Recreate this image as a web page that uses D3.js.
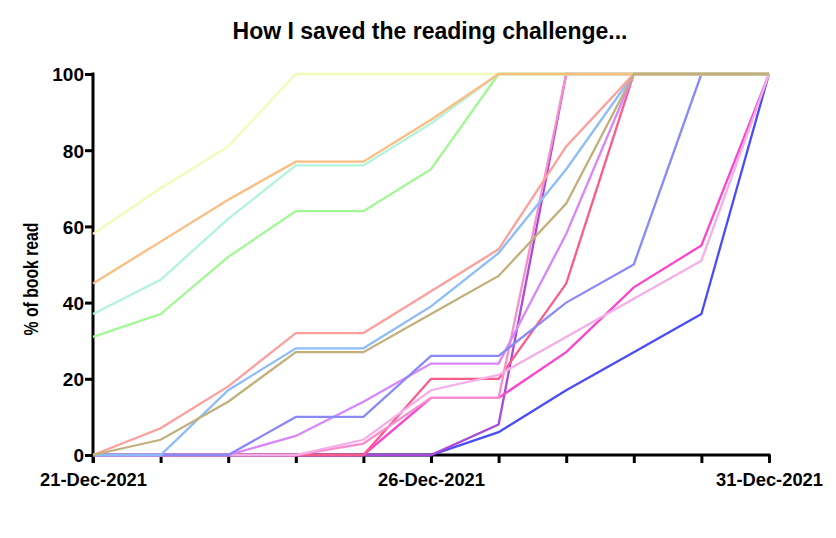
<!DOCTYPE html>
<html>
<head>
<meta charset="utf-8">
<script src="https://cdn.jsdelivr.net/npm/d3@7"></script>
<style>
  html, body { margin: 0; padding: 0; background: #fff; }
  svg { display: block; font-family: "Liberation Sans", Arial, sans-serif; }
</style>
</head>
<body>
<svg id="chart" width="836" height="538"></svg>
<script>
// ---- data ----
const dates = ["2021-12-21","2021-12-22","2021-12-23","2021-12-24","2021-12-25","2021-12-26","2021-12-27","2021-12-28","2021-12-29","2021-12-30","2021-12-31"];
const tickLabelDates = ["2021-12-21","2021-12-26","2021-12-31"];
const yTicks = [0, 20, 40, 60, 80, 100];

const bookBlue       = [0, 0, 0, 0, 0, 0, 6, 17, 27, 37, 100];
const bookPurple     = [0, 0, 0, 0, 0, 0, 8, 100, 100, 100, 100];
const bookMagenta    = [0, 0, 0, 0, 0, 15, 15, 27, 44, 55, 100];
const bookRedPink    = [0, 0, 0, 0, 0, 20, 20, 45, 100, 100, 100];
const bookPink       = [0, 0, 0, 0, 3, 15, 15, 100, 100, 100, 100];
const bookLightPink  = [0, 0, 0, 0, 4, 17, 21, 31, 41, 51, 100];
const bookViolet     = [0, 0, 0, 5, 14, 24, 24, 58, 100, 100, 100];
const bookPeriwinkle = [0, 0, 0, 10, 10, 26, 26, 40, 50, 100, 100];
const bookLightBlue  = [0, 0, 17, 28, 28, 39, 53, 75, 100, 100, 100];
const bookSalmon     = [0, 7, 18, 32, 32, 43, 54, 81, 100, 100, 100];
const bookYellow     = [58, 70, 81, 100, 100, 100, 100, 100, 100, 100, 100];
const bookAqua       = [37, 46, 62, 76, 76, 87, 100, 100, 100, 100, 100];
const bookGreen      = [31, 37, 52, 64, 64, 75, 100, 100, 100, 100, 100];
const bookOrange     = [45, 56, 67, 77, 77, 88, 100, 100, 100, 100, 100];
const bookTan        = [0, 4, 14, 27, 27, 37, 47, 66, 100, 100, 100];

const seriesList = [
  { values: bookBlue,       color: "#4a4cf6" },
  { values: bookPurple,     color: "#a94ad8" },
  { values: bookMagenta,    color: "#fb45cf" },
  { values: bookRedPink,    color: "#fd5a8c" },
  { values: bookPink,       color: "#f78fcf" },
  { values: bookLightPink,  color: "#f6aee8" },
  { values: bookViolet,     color: "#d986fa" },
  { values: bookPeriwinkle, color: "#8a89fb" },
  { values: bookLightBlue,  color: "#8dbdf9" },
  { values: bookSalmon,     color: "#fe9f9c" },
  { values: bookYellow,     color: "#f4fbb8" },
  { values: bookAqua,       color: "#b2f3dc" },
  { values: bookGreen,      color: "#a0f993" },
  { values: bookOrange,     color: "#fdbd80" },
  { values: bookTan,        color: "#c2b07c" }
];

// ---- layout ----
const W = 836, H = 538;
const margin = { top: 74, right: 67, bottom: 83, left: 93 };
const parse = d3.timeParse("%Y-%m-%d");
const fmt = d3.timeFormat("%d-%b-%Y");
const dateObjs = dates.map(parse);

const svg = d3.select("#chart");
const x = d3.scaleTime()
  .domain(d3.extent(dateObjs))
  .range([margin.left, W - margin.right]);
const y = d3.scaleLinear()
  .domain([0, 100])
  .range([H - margin.bottom, margin.top]);

// axes (drawn first so lines at 0 sit on top)
const labelSet = new Set(tickLabelDates);
const xAxis = d3.axisBottom(x)
  .tickValues(dateObjs)
  .tickSize(8)
  .tickSizeOuter(0)
  .tickFormat((d) => labelSet.has(d3.timeFormat("%Y-%m-%d")(d)) ? fmt(d) : "");

const gx = svg.append("g")
  .attr("transform", `translate(0,${H - margin.bottom})`)
  .call(xAxis);
gx.select(".domain").attr("stroke", "#000").attr("stroke-width", 3)
  .attr("d", `M${margin.left - 1.5},0H${W - margin.right + 1.5}`);
gx.selectAll(".tick line").attr("stroke", "#000").attr("stroke-width", 3);
gx.selectAll(".tick text")
  .attr("fill", "#000")
  .attr("font-size", 19)
  .attr("font-weight", "bold")
  .attr("y", 31)
  .attr("dy", 0)
  .each(function() {
    if (this.textContent) {
      d3.select(this).attr("textLength", 107).attr("lengthAdjust", "spacingAndGlyphs");
    }
  });

const yAxis = d3.axisLeft(y)
  .tickValues(yTicks)
  .tickSize(8)
  .tickSizeOuter(0);
const gy = svg.append("g")
  .attr("transform", `translate(${margin.left},0)`)
  .call(yAxis);
gy.select(".domain").attr("stroke", "#000").attr("stroke-width", 3)
  .attr("d", `M0,${margin.top - 1.5}V${H - margin.bottom + 8}`);
gy.selectAll(".tick line").attr("stroke", "#000").attr("stroke-width", 3);
gy.selectAll(".tick text")
  .attr("fill", "#000")
  .attr("font-size", 19)
  .attr("font-weight", "bold")
  .attr("x", -9)
  .attr("dy", "0.36em");

// lines
const line = d3.line()
  .x((d, i) => x(dateObjs[i]))
  .y(d => y(d));

svg.append("g")
  .selectAll("path")
  .data(seriesList)
  .join("path")
  .attr("d", s => line(s.values))
  .attr("fill", "none")
  .attr("stroke", s => s.color)
  .attr("stroke-width", 2.3)
  .attr("stroke-linejoin", "miter");

// titles
svg.append("text")
  .attr("x", 430)
  .attr("y", 39)
  .attr("text-anchor", "middle")
  .attr("font-size", 23)
  .attr("font-weight", "bold")
  .text("How I saved the reading challenge...");

svg.append("text")
  .attr("transform", `translate(38,279) rotate(-90)`)
  .attr("text-anchor", "middle")
  .attr("font-size", 20)
  .attr("font-weight", "bold")
  .attr("textLength", 113)
  .attr("lengthAdjust", "spacingAndGlyphs")
  .text("% of book read");
</script>
</body>
</html>
